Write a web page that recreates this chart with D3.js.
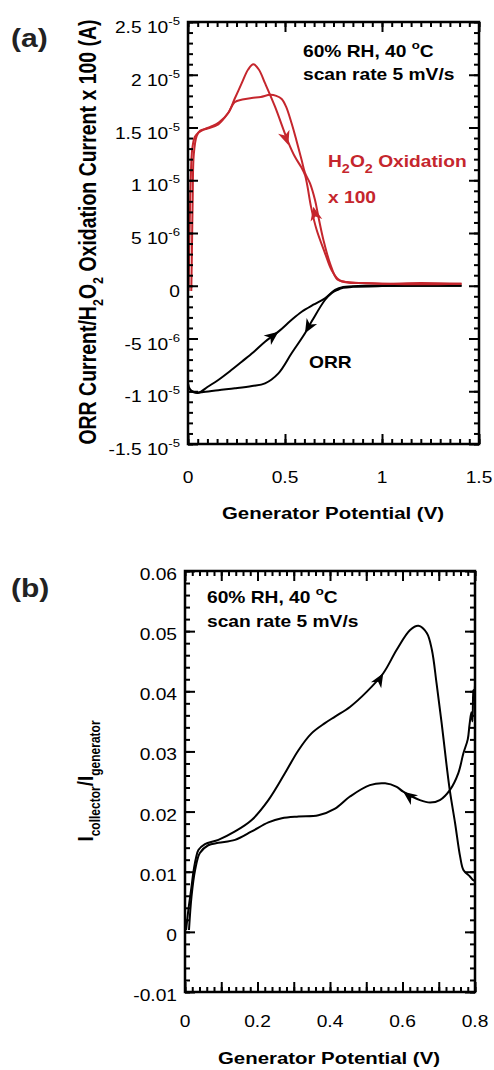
<!DOCTYPE html>
<html>
<head>
<meta charset="utf-8">
<script src="https://cdn.jsdelivr.net/npm/d3@7"></script>
<style>
  body { margin: 0; background: #fff; }
  text { font-family: "Liberation Sans", Arial, sans-serif; }
</style>
</head>
<body>
<svg id="fig" width="494" height="1070"></svg>
<script>
// ---- panel (a): currents in units of 1e-5 A, potential in V ----
const h2o2Fwd = [[0.003,-0.05],[0.008,0.5],[0.014,1.0],[0.022,1.3],[0.035,1.41],[0.053,1.45],[0.08,1.48],[0.12,1.51],
  [0.16,1.55],[0.208,1.64],[0.24,1.77],[0.277,1.92],[0.31,2.05],[0.337,2.10],[0.365,2.05],[0.397,1.92],[0.448,1.70],
  [0.517,1.36],[0.552,1.22],[0.585,1.12],[0.603,1.05],[0.615,0.95],[0.634,0.75],[0.663,0.53],[0.706,0.31],
  [0.74,0.149],[0.775,0.06],[0.82,0.03],[0.9,0.025],[1.0,0.02],[1.2,0.015],[1.41,0.02]];
const h2o2Rev = [[1.41,0.02],[1.2,0.025],[1.0,0.02],[0.9,0.025],[0.82,0.035],[0.77,0.06],[0.732,0.213],[0.698,0.434],
  [0.672,0.655],[0.655,0.81],[0.629,0.97],[0.603,1.07],[0.586,1.19],[0.56,1.37],[0.534,1.54],[0.505,1.7],[0.483,1.77],
  [0.455,1.80],[0.423,1.81],[0.375,1.79],[0.328,1.78],[0.28,1.765],[0.24,1.74],[0.208,1.64],[0.156,1.53],[0.1,1.49],
  [0.063,1.47],[0.045,1.42],[0.03,1.25],[0.024,0.8],[0.02,0.3],[0.017,-0.05]];
const orrFwd = [[0.0,-0.925],[0.01,-0.98],[0.03,-1.01],[0.055,-1.015],[0.1,-0.96],[0.156,-0.893],[0.216,-0.81],
  [0.277,-0.72],[0.337,-0.63],[0.397,-0.53],[0.466,-0.435],[0.53,-0.33],[0.586,-0.246],[0.646,-0.18],[0.706,-0.119],
  [0.758,-0.04],[0.8,-0.012],[0.9,0.0],[1.2,0.0],[1.41,0.0]];
const orrRev = [[1.41,0.0],[1.0,-0.003],[0.85,-0.01],[0.8,-0.02],[0.77,-0.04],[0.74,-0.07],[0.706,-0.135],[0.64,-0.33],
  [0.603,-0.45],[0.534,-0.64],[0.466,-0.83],[0.397,-0.925],[0.33,-0.95],[0.242,-0.972],[0.156,-0.99],[0.072,-1.01],
  [0.04,-1.01],[0.02,-1.0]];
// arrow heads: [tip V, tip I, tail V, tail I]
const h2o2Arrows = [[0.517,1.334,0.49,1.48],[0.646,0.75,0.662,0.62]];
const orrArrows = [[0.466,-0.435,0.42,-0.5],[0.603,-0.45,0.64,-0.33]];

const aXTicks = [0, 0.5, 1, 1.5];
const aXLabels = ["0", "0.5", "1", "1.5"];
const aYTicks = [2.5, 2, 1.5, 1, 0.5, 0, -0.5, -1, -1.5];
const aYLabels = [["2.5 10","-5"],["2 10","-5"],["1.5 10","-5"],["1 10","-5"],["5 10","-6"],["0",""],
  ["-5 10","-6"],["-1 10","-5"],["-1.5 10","-5"]];

// ---- panel (b): collector/generator current ratio ----
const ratioFwd = [[0.003,0.0003],[0.01,0.004],[0.018,0.0075],[0.023,0.0099],[0.03,0.0122],[0.037,0.0136],
  [0.055,0.0146],[0.092,0.0153],[0.138,0.0167],[0.184,0.0186],[0.23,0.0219],[0.276,0.0264],[0.313,0.0302],
  [0.349,0.033],[0.386,0.0347],[0.414,0.0358],[0.455,0.0374],[0.501,0.0399],[0.547,0.043],[0.584,0.0469],
  [0.621,0.0502],[0.644,0.0509],[0.667,0.0497],[0.681,0.0469],[0.694,0.0413],[0.708,0.0347],[0.722,0.0275],
  [0.731,0.0233],[0.745,0.0181],[0.759,0.0125],[0.768,0.0103],[0.786,0.0092],[0.795,0.0086],[0.8,0.0085]];
const ratioRev = [[0.8,0.041],[0.797,0.0385],[0.795,0.0402],[0.793,0.035],[0.79,0.0365],[0.785,0.0345],[0.78,0.032],
  [0.768,0.0297],[0.754,0.0264],[0.731,0.0236],[0.703,0.0219],[0.676,0.0215],[0.648,0.0219],[0.602,0.0233],
  [0.584,0.0241],[0.552,0.0247],[0.51,0.0244],[0.455,0.0225],[0.414,0.0205],[0.368,0.0194],[0.313,0.0192],
  [0.267,0.0189],[0.23,0.0182],[0.184,0.0167],[0.138,0.0153],[0.092,0.0148],[0.064,0.0144],[0.041,0.0131],
  [0.028,0.0103],[0.018,0.0059],[0.011,0.0003]];
const ratioArrows = [[0.547,0.043,0.52,0.0403],[0.602,0.0233,0.635,0.0218]];

const bXTicks = [0, 0.2, 0.4, 0.6, 0.8];
const bXLabels = ["0", "0.2", "0.4", "0.6", "0.8"];
const bYTicks = [0.06, 0.05, 0.04, 0.03, 0.02, 0.01, 0, -0.01];
const bYLabels = ["0.06", "0.05", "0.04", "0.03", "0.02", "0.01", "0", "-0.01"];

const RED = "#c5262d";
const SX = 1.2; // original figure is stretched horizontally

const svg = d3.select("#fig");

// text with optional sub/superscript parts
function label(g, x, y, parts, o) {
  o = o || {};
  const size = o.size || 16, small = o.small || 11;
  const t = g.append("text")
    .attr("transform", `translate(${x},${y}) scale(${SX},1)` + (o.rotate ? " rotate(-90)" : ""))
    .attr("text-anchor", o.anchor || "start")
    .attr("font-size", size)
    .attr("font-weight", o.bold ? "bold" : "normal")
    .attr("fill", o.color || "#000");
  let cur = 0;
  parts.forEach(p => {
    if (typeof p === "string") p = {t: p};
    if (p.t === "") return;
    const off = p.sub ? (o.subDy || 5) : p.sup ? -(o.supDy || 7) : 0;
    const ts = t.append("tspan").attr("dy", off - cur).text(p.t);
    if (p.sub || p.sup) ts.attr("font-size", small);
    cur = off;
  });
  return t;
}

function frame(g, x, y, xMajor, xMinor, yMajor, yMinor) {
  const [x0, x1] = x.range(), [y1, y0] = y.range();
  const ax = [
    [d3.axisBottom, y1, xMajor, 10], [d3.axisBottom, y1, xMinor, 5],
    [d3.axisTop, y0, xMajor, 10], [d3.axisTop, y0, xMinor, 5]
  ];
  ax.forEach(([fn, pos, vals, len]) => {
    g.append("g").attr("transform", `translate(0,${pos})`)
      .call(fn(x).tickValues(vals).tickSize(-len).tickFormat(""))
      .call(a => a.select(".domain").remove())
      .selectAll("line").attr("stroke-width", 2);
  });
  const ay = [
    [d3.axisLeft, x0, yMajor, 10], [d3.axisLeft, x0, yMinor, 5],
    [d3.axisRight, x1, yMajor, 10], [d3.axisRight, x1, yMinor, 5]
  ];
  ay.forEach(([fn, pos, vals, len]) => {
    g.append("g").attr("transform", `translate(${pos},0)`)
      .call(fn(y).tickValues(vals).tickSize(-len).tickFormat(""))
      .call(a => a.select(".domain").remove())
      .selectAll("line").attr("stroke-width", 2);
  });
  g.append("rect").attr("x", x0).attr("y", y0).attr("width", x1 - x0).attr("height", y1 - y0)
    .attr("fill", "none").attr("stroke", "#000").attr("stroke-width", 2.5);
}

function arrowHead(g, x, y, a, color) {
  const px = x(a[0]), py = y(a[1]), qx = x(a[2]), qy = y(a[3]);
  const ang = Math.atan2(py - qy, px - qx) * 180 / Math.PI;
  g.append("path").attr("d", "M0,0L-14,-6L-10,0L-14,6Z")
    .attr("transform", `translate(${px},${py}) rotate(${ang})`)
    .attr("fill", color);
}

// ================= panel (a) =================
{
  const g = svg.append("g");
  const x = d3.scaleLinear().domain([0, 1.5]).range([188, 479]);
  const y = d3.scaleLinear().domain([-1.5, 2.5]).range([444, 22]);
  const line = d3.line().x(d => x(d[0])).y(d => y(d[1])).curve(d3.curveCatmullRom.alpha(0.5));

  g.append("clipPath").attr("id", "clipA").append("rect")
    .attr("x", 188).attr("y", 22).attr("width", 291).attr("height", 422);
  const plot = g.append("g").attr("clip-path", "url(#clipA)");
  [orrFwd, orrRev].forEach(d => plot.append("path").attr("d", line(d))
    .attr("fill", "none").attr("stroke", "#000").attr("stroke-width", 2));
  [h2o2Fwd, h2o2Rev].forEach(d => plot.append("path").attr("d", line(d))
    .attr("fill", "none").attr("stroke", RED).attr("stroke-width", 2));
  h2o2Arrows.forEach(a => arrowHead(g, x, y, a, RED));
  orrArrows.forEach(a => arrowHead(g, x, y, a, "#000"));

  frame(g, x, y, aXTicks, d3.range(0, 1.501, 0.05), aYTicks, d3.range(-15, 25.1, 1).map(v => v / 10));

  aXTicks.forEach((v, i) => label(g, x(v), 483, [aXLabels[i]], {anchor: "middle"}));
  aYTicks.forEach((v, i) => label(g, 180, y(v) + 11, [aYLabels[i][0], {t: aYLabels[i][1], sup: true}],
    {anchor: "end", supDy: 8}));

  label(g, 333, 519, ["Generator Potential (V)"], {anchor: "middle", bold: true, size: 17});
  label(g, 96, 232, ["ORR Current/H", {t: "2", sub: true}, "O", {t: "2", sub: true}, " Oxidation Current x 100 (A)"],
    {anchor: "middle", bold: true, size: 19.5, rotate: true, small: 12.5, subDy: 6});
  label(g, 11, 47, ["(a)"], {bold: true, size: 25, color: "#222"});

  label(g, 303, 57, ["60% RH, 40 ", {t: "o", sup: true}, "C"], {bold: true, size: 16, supDy: 8});
  label(g, 303, 80, ["scan rate 5 mV/s"], {bold: true, size: 16});
  label(g, 328, 167, ["H", {t: "2", sub: true}, "O", {t: "2", sub: true}, " Oxidation"],
    {bold: true, size: 16, color: RED, small: 12, subDy: 6});
  label(g, 328, 203, ["x 100"], {bold: true, size: 16, color: RED});
  label(g, 309, 368, ["ORR"], {bold: true, size: 16});
}

// ================= panel (b) =================
{
  const g = svg.append("g");
  const x = d3.scaleLinear().domain([0, 0.8]).range([185, 475]);
  const y = d3.scaleLinear().domain([-0.01, 0.06]).range([992, 571]);
  const line = d3.line().x(d => x(d[0])).y(d => y(d[1])).curve(d3.curveCatmullRom.alpha(0.5));

  g.append("clipPath").attr("id", "clipB").append("rect")
    .attr("x", 185).attr("y", 571).attr("width", 290).attr("height", 421);
  const plot = g.append("g").attr("clip-path", "url(#clipB)");
  [ratioFwd, ratioRev].forEach(d => plot.append("path").attr("d", line(d))
    .attr("fill", "none").attr("stroke", "#000").attr("stroke-width", 2));
  ratioArrows.forEach(a => arrowHead(g, x, y, a, "#000"));

  frame(g, x, y, d3.range(0, 0.801, 0.1), d3.range(0, 0.801, 0.02),
    bYTicks, d3.range(-10, 60.1, 2).map(v => v / 1000));

  bXTicks.forEach((v, i) => label(g, x(v), 1027, [bXLabels[i]], {anchor: "middle"}));
  bYTicks.forEach((v, i) => label(g, 177, y(v) + 9, [bYLabels[i]], {anchor: "end"}));

  label(g, 329, 1064, ["Generator Potential (V)"], {anchor: "middle", bold: true, size: 17});
  label(g, 93, 781, ["I", {t: "collector", sub: true}, "/I", {t: "generator", sub: true}],
    {anchor: "middle", bold: true, size: 19, rotate: true, small: 12, subDy: 6});
  label(g, 11, 597, ["(b)"], {bold: true, size: 25, color: "#222"});

  label(g, 207, 603, ["60% RH, 40 ", {t: "o", sup: true}, "C"], {bold: true, size: 16, supDy: 8});
  label(g, 207, 627, ["scan rate 5 mV/s"], {bold: true, size: 16});
}
</script>
</body>
</html>
